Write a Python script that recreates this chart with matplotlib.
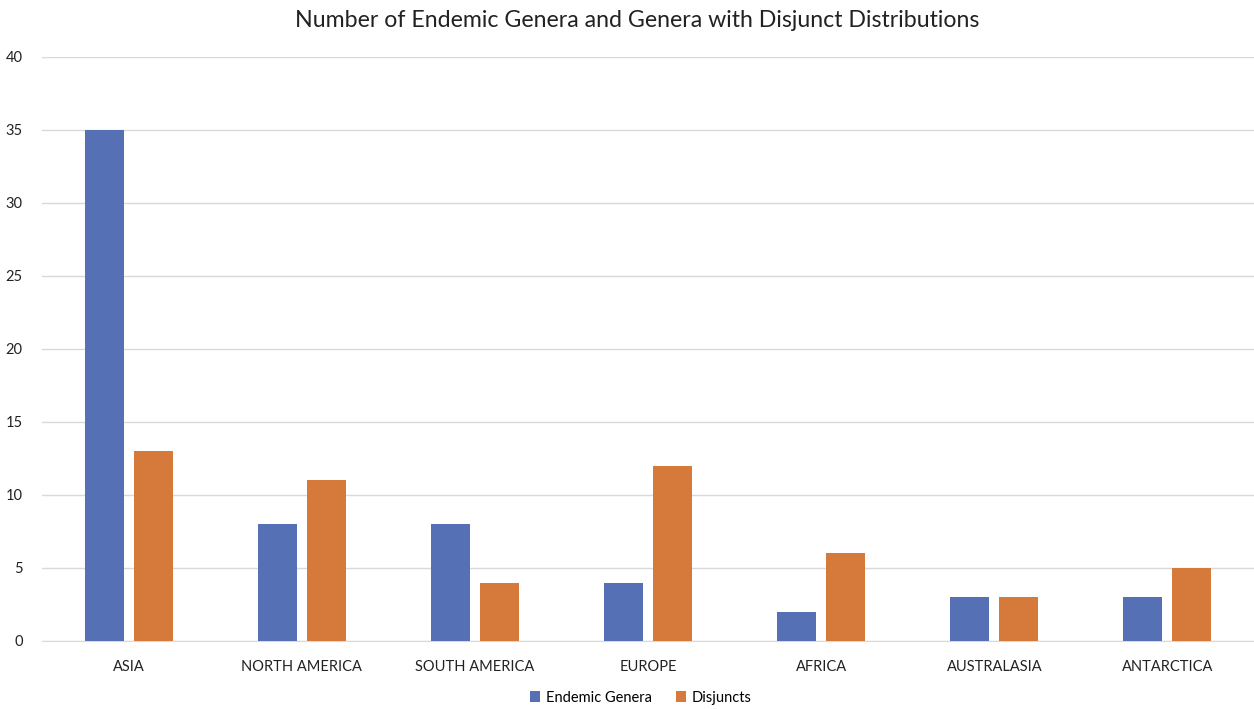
import numpy as np
import matplotlib.pyplot as plt

regions = ['ASIA', 'NORTH AMERICA', 'SOUTH AMERICA', 'EUROPE', 'AFRICA', 'AUSTRALASIA', 'ANTARCTICA']
endemic = [35, 8, 8, 4, 2, 3, 3]
disjuncts = [13, 11, 4, 12, 6, 3, 5]

plt.rcParams['font.family'] = ['Lato', 'DejaVu Sans']

fig = plt.figure(figsize=(12.54, 7.09), dpi=100)
ax = fig.add_axes([0.0335, 0.096, 0.9665, 0.8237])

x = np.arange(len(regions))
w = 0.225
off = 0.1415
ax.bar(x - off, endemic, w, color='#5670B5', label='Endemic Genera', zorder=3)
ax.bar(x + off, disjuncts, w, color='#D57A3A', label='Disjuncts', zorder=3)

ax.set_xlim(-0.5, len(regions) - 0.5)
ax.set_ylim(0, 40)
ax.set_yticks(range(0, 41, 5))
ax.set_xticks(x)
ax.set_xticklabels(regions)
ax.grid(axis='y', color='#D9D9D9', linewidth=1, zorder=0)
for s in ['top', 'right', 'left']:
    ax.spines[s].set_visible(False)
ax.spines['bottom'].set_color('#D9D9D9')
ax.tick_params(axis='both', length=0, labelsize=10.5, colors='#222222')
ax.tick_params(axis='x', pad=14)
ax.tick_params(axis='y', pad=14)

# title sits a bit right of the figure centre, like the plot area
fig.text(0.508, 0.971, 'Number of Endemic Genera and Genera with Disjunct Distributions',
         ha='center', va='center', fontsize=16.7, color='#222222')
fig.legend(loc='center', bbox_to_anchor=(0.511, 0.016), ncol=2, frameon=False,
           fontsize=10.5, handlelength=0.7, handleheight=0.7, columnspacing=1.6,
           handletextpad=0.4)

fig.savefig('out.png', dpi=100)
